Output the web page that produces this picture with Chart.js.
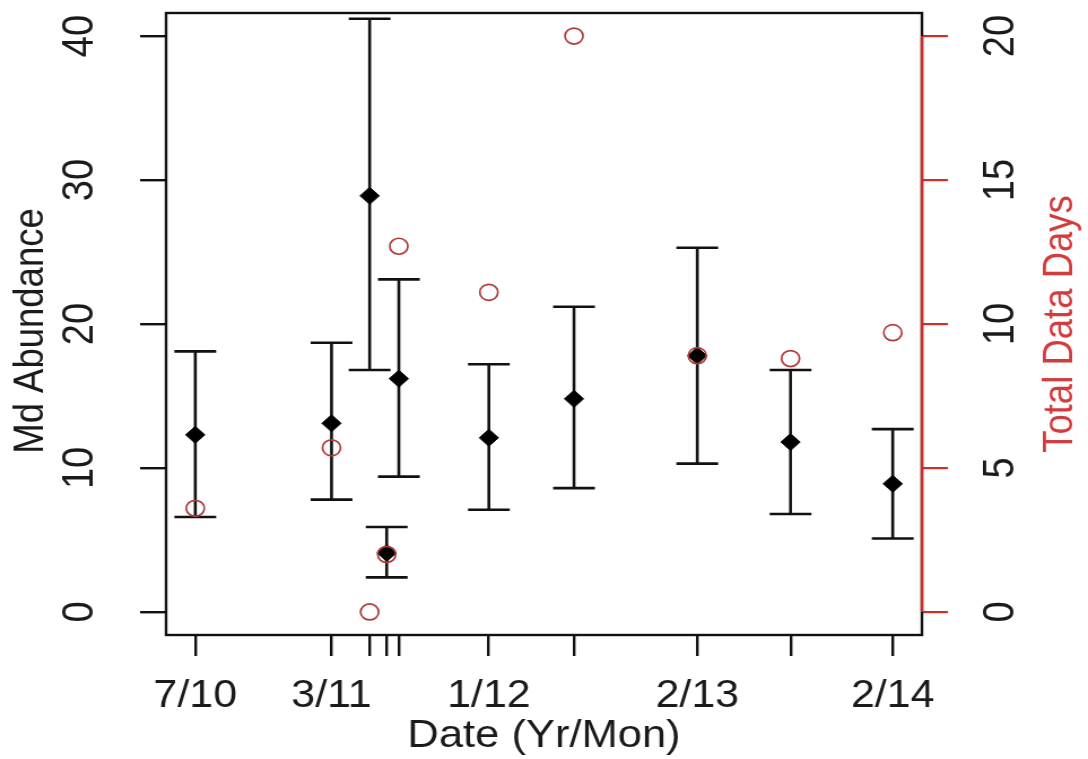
<!DOCTYPE html>
<html>
<head>
<meta charset="utf-8">
<script src="https://cdn.jsdelivr.net/npm/chart.js@4"></script>
<style>
html, body { margin: 0; padding: 0; background: #fff; }
canvas { display: block; }
</style>
</head>
<body>
<!-- the reference is a slightly sideways-stretched R plot, so the canvas is drawn narrower and stretched -->
<canvas id="chart" width="963" height="759" style="width:1088px;height:759px"></canvas>
<script>
// sample dates, in months counted from Jul 2010
const datePos = [0, 8.4, 10.75, 11.8, 12.55, 18.1, 23.35, 30.95, 36.7, 43]
const dateLabels = ['7/10', '3/11', '', '', '', '1/12', '', '2/13', '', '2/14']

// Md abundance: mean and error bar ends
const abundMean = [12.3, 13.1, 28.9, 4.1, 16.2, 12.1, 14.8, 17.8, 11.8, 8.9]
const abundLow = [6.6, 7.8, 16.8, 2.4, 9.4, 7.1, 8.6, 10.3, 6.8, 5.1]
const abundHigh = [18.1, 18.7, 41.2, 5.9, 23.1, 17.2, 21.2, 25.3, 16.8, 12.7]

// total data days (right axis)
const dataDays = [3.6, 5.7, 0, 2.0, 12.7, 11.1, 20, 8.9, 8.8, 9.7]

const leftTicks = [0, 10, 20, 30, 40]
const rightTicks = [0, 5, 10, 15, 20]

const INK = '#111'
const RED = '#c9302c'
const FONT_FAMILY = '"Liberation Sans", Arial, sans-serif'
const TICK_SIZE = 38

// error bars, box, red right axis and the rotated R-style labels
const rPlot = {
  id: 'rPlot',
  beforeDatasetsDraw(chart) {
    const {ctx, scales} = chart
    const cap = 18.5
    ctx.save()
    ctx.strokeStyle = INK
    ctx.lineWidth = 2.6
    datePos.forEach((d, i) => {
      const x = scales.x.getPixelForValue(d)
      const lo = scales.y.getPixelForValue(abundLow[i])
      const hi = scales.y.getPixelForValue(abundHigh[i])
      ctx.beginPath()
      ctx.moveTo(x, lo); ctx.lineTo(x, hi)
      ctx.moveTo(x - cap, lo); ctx.lineTo(x + cap, lo)
      ctx.moveTo(x - cap, hi); ctx.lineTo(x + cap, hi)
      ctx.stroke()
    })
    ctx.restore()
  },
  afterDraw(chart) {
    const {ctx, chartArea: a, scales} = chart
    ctx.save()
    ctx.strokeStyle = INK
    ctx.lineWidth = 2.4
    ctx.strokeRect(a.left, a.top, a.right - a.left, a.bottom - a.top)

    // right axis line only spans its ticks
    ctx.strokeStyle = RED
    ctx.lineWidth = 2.5
    ctx.beginPath()
    ctx.moveTo(a.right, scales.y1.getPixelForValue(rightTicks[0]))
    ctx.lineTo(a.right, scales.y1.getPixelForValue(rightTicks[rightTicks.length - 1]))
    ctx.stroke()

    ctx.textAlign = 'center'
    ctx.textBaseline = 'alphabetic'
    const vtext = (t, x, y) => {
      ctx.save(); ctx.translate(x, y); ctx.rotate(-Math.PI / 2); ctx.fillText(t, 0, 0); ctx.restore()
    }
    ctx.fillStyle = '#1a1a1a'
    ctx.font = `${TICK_SIZE}px ${FONT_FAMILY}`
    leftTicks.forEach(v => vtext(String(v), a.left - 64.6, scales.y.getPixelForValue(v)))
    rightTicks.forEach(v => vtext(String(v), a.right + 80.5, scales.y1.getPixelForValue(v)))
    ctx.font = `38.5px ${FONT_FAMILY}`
    ctx.fillText('Date (Yr/Mon)', (a.left + a.right) / 2, 747)
    const midY = (a.top + a.bottom) / 2
    ctx.font = `36.5px ${FONT_FAMILY}`
    vtext('Md Abundance', a.left - 108.8, midY + 7)
    ctx.fillStyle = '#d23c3c'
    vtext('Total Data Days', a.right + 132.7, midY)
    ctx.restore()
  }
}

const ctx = document.getElementById('chart').getContext('2d')
new Chart(ctx, {
  type: 'scatter',
  data: {
    datasets: [
      {
        label: 'Total Data Days',
        yAxisID: 'y1',
        data: datePos.map((x, i) => ({x, y: dataDays[i]})),
        pointStyle: 'circle',
        pointRadius: 8,
        pointBorderWidth: 1.7,
        pointBorderColor: '#b03a3a',
        pointBackgroundColor: 'rgba(0,0,0,0)'
      },
      {
        label: 'Md Abundance',
        yAxisID: 'y',
        data: datePos.map((x, i) => ({x, y: abundMean[i]})),
        pointStyle: 'rectRot',
        pointRadius: 8.5,
        pointBorderWidth: 1,
        pointBorderColor: '#000',
        pointBackgroundColor: '#000'
      }
    ]
  },
  options: {
    responsive: false,
    animation: false,
    devicePixelRatio: 1,
    layout: {padding: {top: 13, left: 0, right: 0, bottom: 0}},
    plugins: {legend: {display: false}, tooltip: {enabled: false}},
    scales: {
      x: {
        type: 'linear',
        position: 'bottom',
        min: -1.8,
        max: 44.8,
        afterBuildTicks: s => { s.ticks = datePos.map(v => ({value: v})) },
        afterFit: s => { s.height = 124 },
        border: {display: false},
        grid: {drawOnChartArea: false, tickLength: 21, color: INK, lineWidth: 2.4},
        ticks: {
          autoSkip: false, maxRotation: 0, padding: 18,
          color: '#1a1a1a', font: {family: FONT_FAMILY, size: TICK_SIZE},
          callback: (v, i) => dateLabels[i]
        }
      },
      y: {
        position: 'left',
        min: -1.6,
        max: 41.6,
        afterBuildTicks: s => { s.ticks = leftTicks.map(v => ({value: v})) },
        afterFit: s => { s.width = 147 },
        border: {display: false},
        grid: {drawOnChartArea: false, tickLength: 23, color: INK, lineWidth: 2.4},
        ticks: {display: false}
      },
      y1: {
        position: 'right',
        min: -0.8,
        max: 20.8,
        afterBuildTicks: s => { s.ticks = rightTicks.map(v => ({value: v})) },
        afterFit: s => { s.width = 147 },
        border: {display: false},
        grid: {drawOnChartArea: false, tickLength: 23, color: RED, lineWidth: 2.2},
        ticks: {display: false}
      }
    }
  },
  plugins: [rPlot]
})
</script>
</body>
</html>
